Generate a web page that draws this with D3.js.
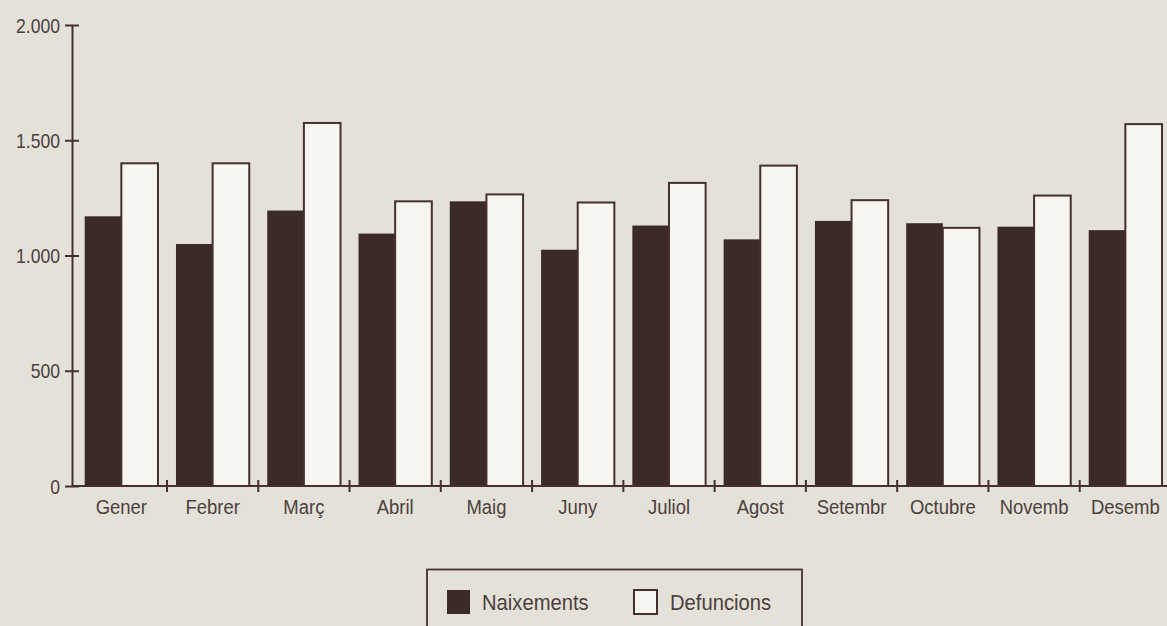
<!DOCTYPE html>
<html>
<head>
<meta charset="utf-8">
<script src="https://cdn.jsdelivr.net/npm/d3@7/dist/d3.min.js"></script>
<style>
  html, body { margin: 0; padding: 0; background: #e3e1d8; }
  svg { display: block; }
  text { font-family: "Liberation Sans", Arial, Helvetica, sans-serif; }
</style>
</head>
<body>
<svg id="chart" width="1167" height="626"></svg>
<script>
const months = ["Gener","Febrer","Març","Abril","Maig","Juny","Juliol","Agost","Setembr","Octubre","Novemb","Desemb"];
const seriesNames = ["Naixements","Defuncions"];
const naixements = [1170,1050,1195,1095,1235,1025,1130,1070,1150,1140,1125,1110];
const defuncions = [1400,1400,1575,1235,1265,1230,1315,1390,1240,1120,1260,1570];
const yTicks = [0,500,1000,1500,2000];

const ink = "#45302d";
const darkFill = "#3b2a28";
const lightFill = "#f6f5f0";
const textColor = "#4d403e";
const squeeze = 0.88;

const svg = d3.select("#chart");
const locale = d3.formatLocale({decimal: ",", thousands: ".", grouping: [3], currency: ["", " €"]});
const fmt = locale.format(",d");

const axisX = 72, baseY = 486, topY = 25;
const x = d3.scaleBand().domain(months).range([75.7, 1171]).paddingInner(0).paddingOuter(0);
const inner = d3.scaleBand().domain(seriesNames).range([9, x.bandwidth() - 9]);
const y = d3.scaleLinear().domain([0, 2000]).range([baseY, topY]);

const data = months.map((m, i) => ({month: m, values: [
  {key: "Naixements", value: naixements[i]},
  {key: "Defuncions", value: defuncions[i]}
]}));

// bars
const groups = svg.append("g").selectAll("g").data(data).join("g")
  .attr("transform", d => `translate(${x(d.month)},0)`);
groups.selectAll("rect").data(d => d.values).join("rect")
  .attr("x", d => inner(d.key))
  .attr("width", inner.bandwidth())
  .attr("y", d => y(d.value))
  .attr("height", d => baseY - y(d.value))
  .attr("fill", d => d.key === "Naixements" ? darkFill : lightFill)
  .attr("stroke", ink)
  .attr("stroke-width", d => d.key === "Naixements" ? 0 : 2);

// y axis
const yAxis = svg.append("g").attr("transform", `translate(${axisX},0)`)
  .call(d3.axisLeft(y).tickValues(yTicks).tickFormat(fmt).tickSize(7).tickPadding(5).tickSizeOuter(0));
yAxis.attr("font-family", null);
yAxis.select(".domain").attr("stroke", ink).attr("stroke-width", 2);
yAxis.selectAll(".tick line").attr("x1", 7).attr("x2", -7).attr("stroke", ink).attr("stroke-width", 2);
yAxis.selectAll(".tick text")
  .attr("fill", textColor).attr("font-size", 20)
  .attr("x", -12 / squeeze).attr("dy", "0.36em")
  .attr("transform", `scale(${squeeze},1)`);

// x axis
const xAxisG = svg.append("g");
xAxisG.append("line").attr("x1", axisX).attr("x2", 1171).attr("y1", baseY).attr("y2", baseY)
  .attr("stroke", ink).attr("stroke-width", 2);
xAxisG.selectAll("line.tick").data(months.slice(1)).join("line").attr("class", "tick")
  .attr("x1", d => x(d)).attr("x2", d => x(d))
  .attr("y1", baseY - 6).attr("y2", baseY + 6)
  .attr("stroke", ink).attr("stroke-width", 2);
xAxisG.selectAll("text").data(months).join("text")
  .attr("transform", d => `translate(${x(d) + x.bandwidth() / 2},514) scale(${squeeze},1)`)
  .attr("text-anchor", "middle")
  .attr("fill", textColor)
  .attr("font-size", 21)
  .text(d => d);

// legend
const lg = svg.append("g");
lg.append("rect").attr("x", 427).attr("y", 569.5).attr("width", 375).attr("height", 80)
  .attr("fill", "none").attr("stroke", ink).attr("stroke-width", 1.8);
const legendItems = [
  {key: "Naixements", sx: 447, tx: 482},
  {key: "Defuncions", sx: 634, tx: 670}
];
legendItems.forEach(it => {
  lg.append("rect").attr("x", it.sx).attr("y", 590).attr("width", 23).attr("height", 24)
    .attr("fill", it.key === "Naixements" ? darkFill : lightFill)
    .attr("stroke", ink).attr("stroke-width", it.key === "Naixements" ? 0 : 2);
  lg.append("text").attr("transform", `translate(${it.tx},610) scale(0.94,1)`)
    .attr("fill", textColor).attr("font-size", 21.5).text(it.key);
});
</script>
</body>
</html>
